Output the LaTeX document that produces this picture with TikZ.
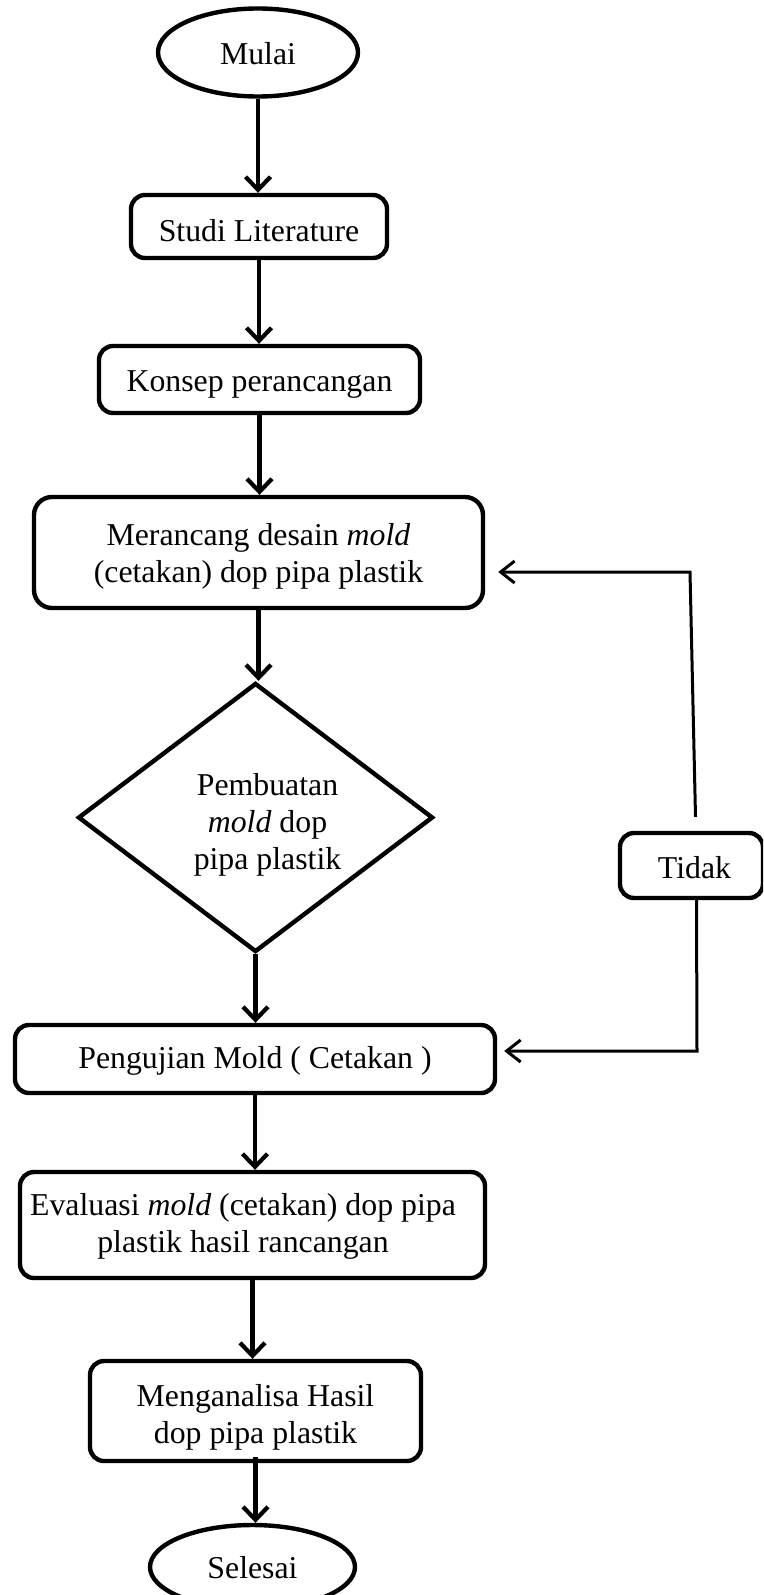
\documentclass[tikz,border=0pt]{standalone}
\usepackage{fontspec}
\setmainfont{Liberation Serif}
\usetikzlibrary{shapes.geometric,arrows.meta,calc}
\newcommand{\upstrut}[1]{\rule{0pt}{#1}}
\begin{document}
\begin{tikzpicture}[x=1pt,y=-1pt,
  box/.style={draw, line width=4.4pt, rounded corners=14pt, align=center, inner sep=0pt},
  oval/.style={draw, ellipse, line width=4.4pt, inner sep=0pt},
  arr/.style={line width=4.2pt, -{Straight Barb[length=13pt,width=25pt]}},
  fb/.style={line width=3pt, -{Straight Barb[length=14pt,width=22pt]}},
  font=\fontsize{31.8}{37}\selectfont]
\path[use as bounding box, clip] (0,0) rectangle (763,1595);

\node[oval, minimum width=200pt, minimum height=88pt] (mulai) at (258,52.5) {\upstrut{25pt}Mulai};
\node[box, minimum width=256pt, minimum height=63pt] (studi) at (259,226.5) {\upstrut{31pt}Studi Literature};
\node[box, minimum width=321pt, minimum height=67pt] (konsep) at (259.5,379.5) {\upstrut{31pt}Konsep perancangan};
\node[box, minimum width=449pt, minimum height=111pt, rounded corners=18pt] (merancang) at (258.5,552.5) {\upstrut{30pt}Merancang desain \textit{mold}\\(cetakan) dop pipa plastik};
\node[draw, diamond, line width=4.4pt, aspect=1.32, inner sep=0pt, minimum width=355pt, minimum height=269pt, align=center] (pembuatan) at (255.5,817.5) {\upstrut{36pt}\hspace*{24pt}Pembuatan\\\hspace*{24pt}\textit{mold} dop\\\hspace*{24pt}pipa plastik};
\node[box, minimum width=143pt, minimum height=65pt] (tidak) at (691.5,865.5) {\upstrut{26pt}\hspace*{6pt}Tidak};
\node[box, minimum width=480pt, minimum height=68pt] (pengujian) at (255,1059) {\upstrut{25pt}Pengujian Mold ( Cetakan )};
\node[box, minimum width=465pt, minimum height=106pt] (evaluasi) at (252.5,1225) {\upstrut{25pt}Evaluasi \textit{mold} (cetakan) dop pipa\hspace*{19pt}\\plastik hasil rancangan\hspace*{19pt}};
\node[box, minimum width=331pt, minimum height=100pt] (menganalisa) at (255.5,1411) {\upstrut{34pt}Menganalisa Hasil\\dop pipa plastik};
\node[oval, minimum width=205pt, minimum height=84pt] (selesai) at (252.5,1567) {\upstrut{24pt}Selesai};

\draw[arr] (mulai.south) -- (mulai.south |- studi.north);
\draw[arr] (studi.south) -- (studi.south |- konsep.north);
\draw[arr] (konsep.south) -- (konsep.south |- merancang.north);
\draw[arr] (merancang.south) -- (merancang.south |- pembuatan.north);
\draw[arr] (pembuatan.south) -- (pembuatan.south |- pengujian.north);
\draw[arr] (pengujian.south) -- (pengujian.south |- evaluasi.north);
\draw[arr] (evaluasi.south) -- (evaluasi.south |- menganalisa.north);
\draw[arr] ([yshift=6pt]menganalisa.south) -- (menganalisa.south |- selesai.north);

\coordinate (t1) at ([xshift=4pt,yshift=14pt]tidak.north);
\coordinate (c1) at (690,572);
\draw[fb] (t1) -- (c1) -- ($(merancang.east |- c1)+(13,0)$);
\coordinate (t2) at ([xshift=5pt]tidak.south);
\coordinate (c2) at (697,1051);
\draw[fb] (t2) -- (c2) -- ($(pengujian.east |- c2)+(7,0)$);
\end{tikzpicture}
\end{document}
